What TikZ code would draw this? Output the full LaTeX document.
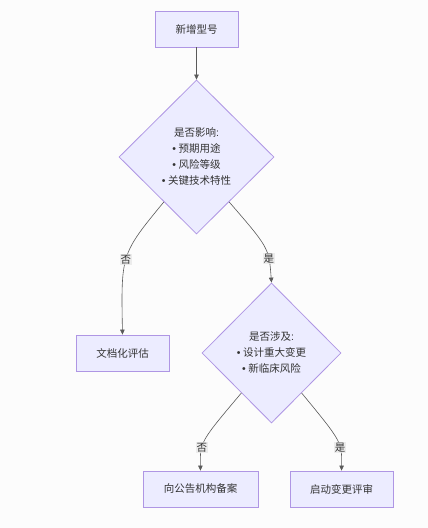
\documentclass[tikz,border=0pt]{standalone}
\usepackage{fontspec}
\setmainfont{Noto Sans CJK SC}
\newfontfamily\latinfont{Liberation Sans}
\usetikzlibrary{shapes.geometric,arrows.meta}
\definecolor{boxfill}{RGB}{236,236,255}
\definecolor{boxline}{RGB}{175,150,228}
\definecolor{edgecol}{RGB}{90,90,90}
\definecolor{lblfill}{RGB}{232,232,232}
\definecolor{bgcol}{RGB}{252,252,252}
\newcommand{\bul}{{\latinfont •} }
\newcommand{\colo}{{\latinfont :}}
\begin{document}
\begin{tikzpicture}[x=1pt,y=-1pt,>={Triangle[length=5pt,width=4.5pt]},font=\fontsize{10.5}{16}\selectfont,text=black!80,
	box/.style={draw=boxline,fill=boxfill,line width=0.8pt,minimum height=36pt,inner sep=0pt},
	decide/.style={diamond,draw=boxline,fill=boxfill,line width=0.8pt,inner sep=0pt,align=center},
	edge/.style={->,draw=edgecol,line width=0.6pt},
	lbl/.style={fill=lblfill,fill opacity=0.8,text opacity=1,inner sep=1pt}]
		\fill[bgcol] (0,0) rectangle (428,528);
		\useasboundingbox (0,0) rectangle (428,528);
		% nodes
		\node[box,minimum width=83pt] (xinzeng) at (196.5,29) {新增型号};
		\node[decide,minimum width=155pt,minimum height=154pt] (yingxiang) at (196.5,157) {是否影响\colo\\\bul 预期用途\\\bul 风险等级\\\bul 关键技术特性};
		\node[box,minimum width=93pt] (wendang) at (122.5,353) {文档化评估};
		\node[decide,minimum width=139pt,minimum height=140pt] (sheji) at (271.5,353) {是否涉及\colo\\\bul 设计重大变更\\\bul 新临床风险};
		\node[box,minimum width=115pt] (beian) at (200.5,489) {向公告机构备案};
		\node[box,minimum width=103pt] (pingshen) at (341.5,489) {启动变更评审};
		% edges
		\draw[edge] (xinzeng.south)--(yingxiang.north);
		\draw[edge] (yingxiang.234) .. controls (121,254) .. (wendang.north) node[lbl,pos=0.52]{否};
		\draw[edge] (yingxiang.306) .. controls (269,248) .. (sheji.north) node[lbl,pos=0.7]{是};
		\draw[edge] (sheji.233) .. controls (200,442) .. (beian.north) node[lbl,pos=0.65]{否};
		\draw[edge] (sheji.307) .. controls (342,442) .. (pingshen.north) node[lbl,pos=0.65]{是};
	\end{tikzpicture}
\end{document}
